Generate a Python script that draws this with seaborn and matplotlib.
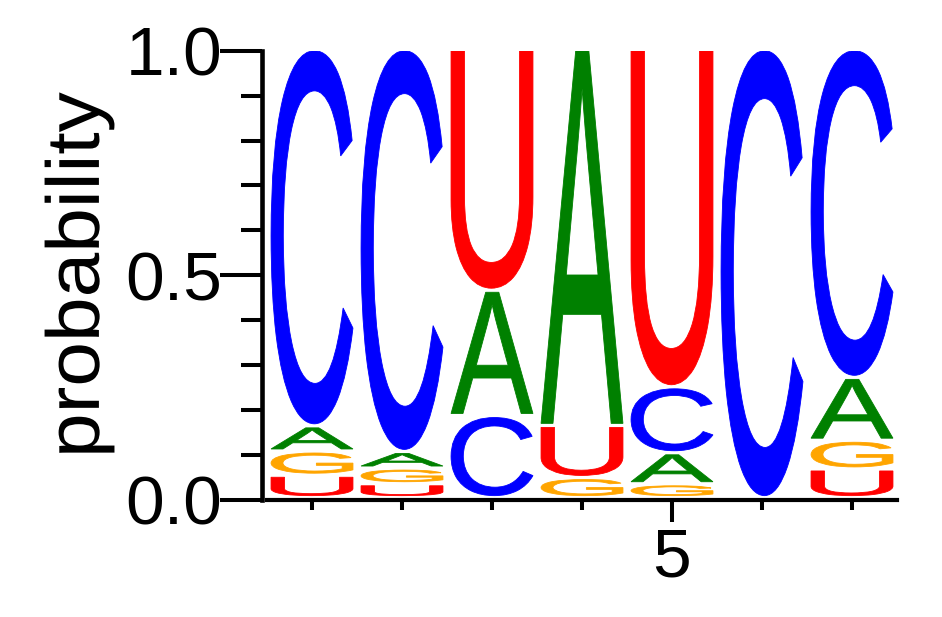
import matplotlib
matplotlib.use("Agg")
import matplotlib.pyplot as plt
import matplotlib.patheffects as pe
import pandas as pd
import seaborn as sns
from matplotlib.font_manager import FontProperties
from matplotlib.patches import PathPatch
from matplotlib.textpath import TextPath
from matplotlib.ticker import FixedLocator, MultipleLocator
from matplotlib.transforms import Affine2D

# probabilities per position
positions = [1, 2, 3, 4, 5, 6, 7]
prob_U = [0.050, 0.031, 0.538, 0.116, 0.753, 0.000, 0.064]
prob_G = [0.054, 0.035, 0.000, 0.045, 0.031, 0.000, 0.064]
prob_A = [0.056, 0.037, 0.279, 0.839, 0.069, 0.000, 0.140]
prob_C = [0.840, 0.897, 0.183, 0.000, 0.147, 1.000, 0.732]

bases = ['U', 'G', 'A', 'C']
base_colors = {'A': '#008000', 'C': '#0000ff', 'G': '#ffa500', 'U': '#ff0000'}

y_ticks = [0.0, 0.5, 1.0]
y_ticklabels = ['0.0', '0.5', '1.0']
x_major = [5]
x_minor = [1, 2, 3, 4, 6, 7]

df = pd.DataFrame({'position': positions, 'U': prob_U, 'G': prob_G,
                   'A': prob_A, 'C': prob_C})
long_df = df.melt(id_vars='position', value_vars=bases,
                  var_name='base', value_name='prob')

sns.set_theme(style="ticks")
plt.rcParams['font.family'] = ['Liberation Sans', 'DejaVu Sans']
plt.rcParams['text.color'] = 'black'
plt.rcParams['axes.edgecolor'] = 'black'
plt.rcParams['axes.labelcolor'] = 'black'

letter_font = FontProperties(family='Liberation Sans')


class StretchAlong(pe.AbstractPathEffect):
    """widen a text path along its reading direction"""

    def __init__(self, factor):
        super().__init__()
        self.factor = factor

    def draw_path(self, renderer, gc, tpath, affine, rgbFace=None):
        ext = tpath.get_extents()
        cx = (ext.x0 + ext.x1) / 2
        pre = Affine2D().translate(-cx, 0).scale(self.factor, 1).translate(cx, 0)
        renderer.draw_path(gc, tpath, pre + affine, rgbFace)


def draw_letter(ax, letter, x, bottom, height, color, width=0.91, gap=0.009):
    h = height - gap
    if h <= 0:
        return
    tp = TextPath((0, 0), letter, size=1, prop=letter_font)
    ext = tp.get_extents()
    tr = (Affine2D().translate(-ext.x0, -ext.y0)
          .scale(width / ext.width, h / ext.height)
          .translate(x - width / 2, bottom + gap))
    ax.add_patch(PathPatch(tr.transform_path(tp), fc=color, ec=color, lw=0.6))


fig = plt.figure(figsize=(9.42, 6.17), dpi=100)
ax = fig.add_axes([267 / 942, 1 - 499.7 / 617, 630 / 942, 449 / 617])

for pos, grp in long_df.groupby('position'):
    grp = grp.sort_values('prob', kind='stable')
    bottom = 0.0
    for _, row in grp.iterrows():
        if row['prob'] > 0:
            draw_letter(ax, row['base'], pos, bottom, row['prob'],
                        base_colors[row['base']])
        bottom += row['prob']

ax.set_xlim(0.5, 7.5)
ax.set_ylim(0, 1)
sns.despine(ax=ax, offset={'left': 3.6})
ax.spines['left'].set_linewidth(3.3)
ax.spines['bottom'].set_linewidth(3.0)

ax.set_yticks(y_ticks)
ax.set_yticklabels(y_ticklabels)
ax.yaxis.set_minor_locator(MultipleLocator(0.1))
ax.set_xticks(x_major)
ax.set_xticklabels([str(v) for v in x_major])
ax.xaxis.set_minor_locator(FixedLocator(x_minor))

ax.tick_params(axis='y', which='major', length=30, width=2.9, pad=-1.5,
               labelsize=50, colors='black')
ax.tick_params(axis='y', which='minor', length=15, width=2.9, colors='black')
ax.tick_params(axis='x', which='major', length=16, width=2.9, pad=3,
               labelsize=50, colors='black')
ax.tick_params(axis='x', which='minor', length=7.5, width=2.9, colors='black')

ax.set_ylabel('probability', fontsize=54)
ax.yaxis.label.set_path_effects([StretchAlong(1.07)])
ax.yaxis.set_label_coords(-0.243, 0.5)

fig.savefig('out.png', dpi=100)
